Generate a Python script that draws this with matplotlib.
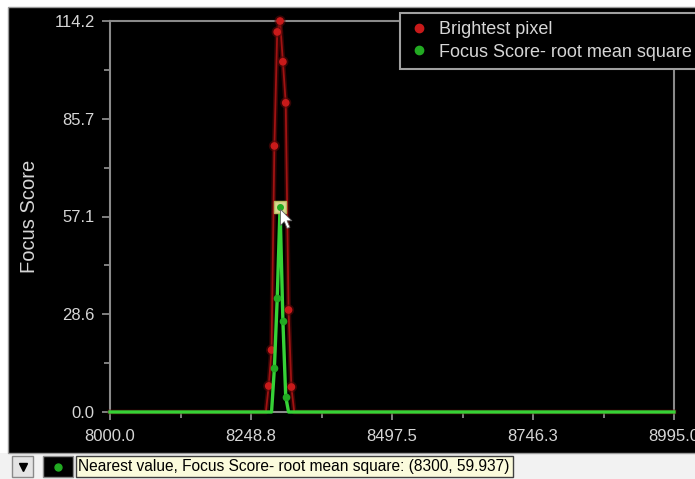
import matplotlib
matplotlib.use('Agg')
import matplotlib.pyplot as plt
from matplotlib.patches import Rectangle
from matplotlib.lines import Line2D
from matplotlib.path import Path
import matplotlib.patheffects as pe

# scan positions and focus scores
z_pos = [8000, 8025, 8050, 8075, 8100, 8125, 8150, 8175, 8200, 8225, 8250, 8275,
         8280, 8285, 8290, 8295, 8300, 8305, 8310, 8315, 8320,
         8325, 8350, 8375, 8400, 8425, 8450, 8475, 8500, 8525, 8550, 8575, 8600,
         8625, 8650, 8675, 8700, 8725, 8750, 8775, 8800, 8825, 8850, 8875, 8900,
         8925, 8950, 8975, 8995]
brightest = [0] * 12 + [7.6, 18.1, 77.7, 111.0, 114.2, 102.3, 90.3, 29.8, 7.3] + [0] * 28
rms = [0] * 12 + [0, 0, 12.8, 33.2, 59.937, 26.7, 4.5, 0, 0] + [0] * 28

x_ticks = [8000.0, 8248.75, 8497.5, 8746.25, 8995.0]
x_labels = ['8000.0', '8248.8', '8497.5', '8746.3', '8995.0']
y_ticks = [0.0, 28.55, 57.1, 85.65, 114.2]
y_labels = ['0.0', '28.6', '57.1', '85.7', '114.2']

series_names = ['Brightest pixel', 'Focus Score- root mean square']
nearest = (8300, 59.937)

plt.rcParams['font.family'] = ['Liberation Sans', 'DejaVu Sans']

W, H = 695, 479
fig = plt.figure(figsize=(W / 100, H / 100), dpi=100)
fig.patch.set_facecolor('white')


def fx(px):
    return px / W


def fy(py):
    return 1 - py / H


def px_rect(x0, y0, x1, y1, **kw):
    r = Rectangle((fx(x0), fy(y1)), fx(x1) - fx(x0), fy(y0) - fy(y1),
                  transform=fig.transFigure, **kw)
    fig.add_artist(r)
    return r


# dark panel and status strip
px_rect(0, 453, W, H, facecolor='#f2f2f2', edgecolor='none', zorder=0)
px_rect(8, 7, W + 2, 453, facecolor='black', edgecolor='#9a9a9a', lw=1, zorder=0)

ax = fig.add_axes([fx(110), fy(412), fx(674) - fx(110), fy(21) - fy(412)])
ax.set_facecolor('black')
for s in ax.spines.values():
    s.set_color('#8a8a8a')
    s.set_linewidth(1.5)

red_line = '#a01212'
red_mark = '#c81a1a'
green_line = '#36d236'
green_mark = '#22aa22'

# markers only where the scan leaves the baseline
peak_idx = list(range(12, 21))

glow = [pe.Stroke(linewidth=3.5, foreground='#5a0808', alpha=0.6), pe.Normal()]
ax.plot(z_pos, brightest, color=red_line, lw=1.3, marker='o', ms=4.5, markevery=peak_idx,
        mfc=red_mark, mec=red_mark, path_effects=glow, zorder=3, clip_on=False)
ax.plot(z_pos, rms, color=green_line, lw=2.4, marker='o', ms=4.5, markevery=peak_idx[2:7],
        mfc=green_mark, mec=green_mark, zorder=4, clip_on=False)

# highlighted nearest value
ax.plot([nearest[0]], [nearest[1]], marker='s', ms=8, mfc='#d8d890', mec='#b8b860',
        ls='', zorder=5)
ax.plot([nearest[0]], [nearest[1]], marker='o', ms=4, mfc=green_mark, mec=green_mark,
        ls='', zorder=6)

# mouse pointer
arrow = Path([(0, -2), (0, -19), (4, -15), (7, -22), (10, -21), (7, -14), (12, -14), (0, -2)],
             [Path.MOVETO] + [Path.LINETO] * 6 + [Path.CLOSEPOLY])
ax.plot([nearest[0]], [nearest[1]], marker=arrow, ms=30, mfc='white', mec='#606060',
        mew=0.6, ls='', zorder=7)

ax.set_xlim(8000, 8995)
ax.set_ylim(0, 114.2)
ax.set_xticks(x_ticks)
ax.set_xticklabels(x_labels)
ax.set_yticks(y_ticks)
ax.set_yticklabels(y_labels)
ax.set_xticks([(a + b) / 2 for a, b in zip(x_ticks[:-1], x_ticks[1:])], minor=True)
ax.set_yticks([(a + b) / 2 for a, b in zip(y_ticks[:-1], y_ticks[1:])], minor=True)
ax.tick_params(which='both', direction='out', color='#8a8a8a', width=1.3,
               labelcolor='#d6d6d6', labelsize=12)
ax.tick_params(which='major', length=6)
ax.tick_params(which='minor', length=4)
ax.tick_params(axis='y', pad=5)
ax.tick_params(axis='x', pad=6)

ax.set_ylabel('Focus Score', color='#d6d6d6', fontsize=14.5)
ax.yaxis.set_label_coords(-0.126, 0.5)

handles = [Line2D([], [], ls='', marker='o', ms=6, color=red_mark),
           Line2D([], [], ls='', marker='o', ms=6, color=green_mark)]
leg = ax.legend(handles, series_names, loc='upper left',
                bbox_to_anchor=(fx(400), fy(13)), bbox_transform=fig.transFigure,
                facecolor='black', edgecolor='#a0a0a0', framealpha=1, fancybox=False,
                labelcolor='#d6d6d6', fontsize=13, handlelength=1.2,
                handletextpad=0.5, borderpad=0.45, labelspacing=0.3, borderaxespad=0)
leg.get_frame().set_linewidth(1.5)
leg.set_zorder(10)

# status strip: dropdown, series swatch, tooltip text
px_rect(12, 456, 33, 477, facecolor='#e4e4e4', edgecolor='#8a8a8a', lw=1, zorder=1)
fig.add_artist(Line2D([fx(22.5)], [fy(466.5)], marker='v', ms=6, color='black',
                      transform=fig.transFigure))
px_rect(43, 456, 73, 477, facecolor='black', edgecolor='#8a8a8a', lw=1, zorder=1)
fig.add_artist(Line2D([fx(58)], [fy(466.5)], marker='o', ms=5, color=green_mark,
                      transform=fig.transFigure))
px_rect(76, 456, 513, 477, facecolor='#fbfbdc', edgecolor='#404040', lw=1, zorder=1)
fig.text(fx(78), fy(466.5),
         'Nearest value, %s: (%d, %.3f)' % (series_names[1], nearest[0], nearest[1]),
         fontsize=11.2, color='black', va='center', ha='left')

fig.savefig('out.png', dpi=100)
